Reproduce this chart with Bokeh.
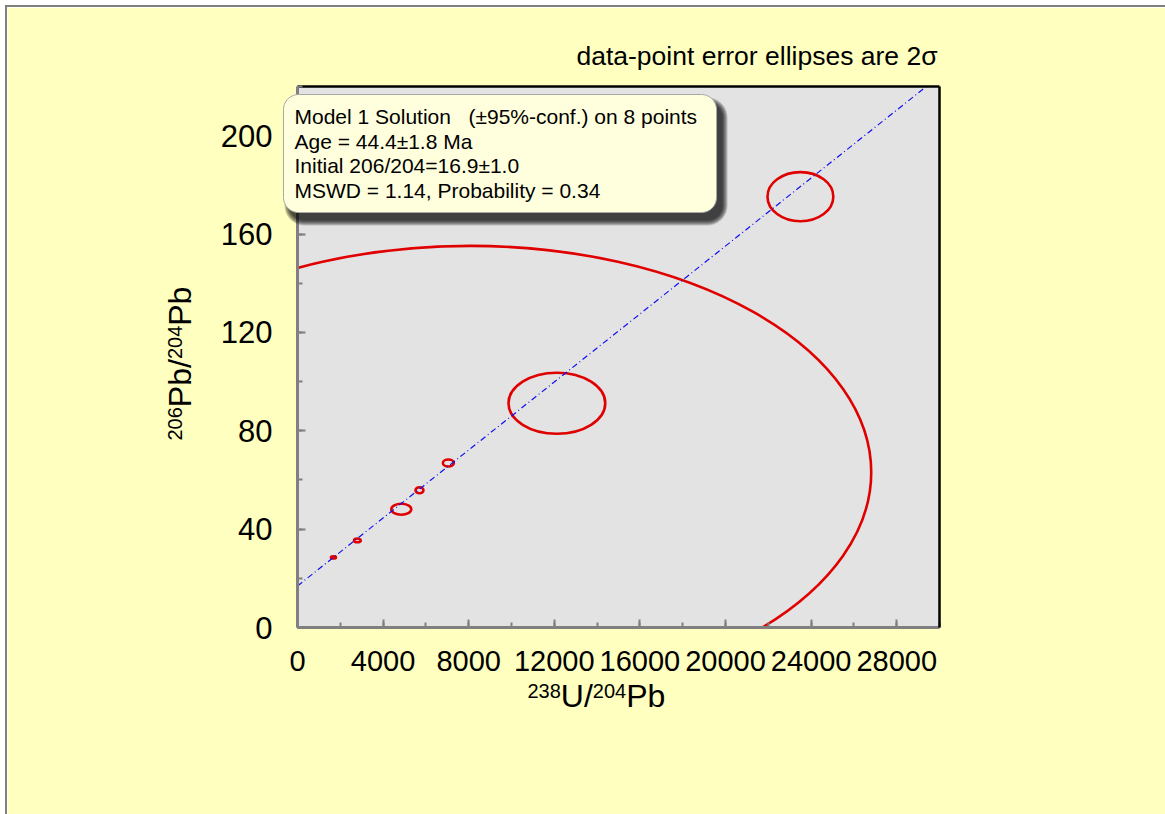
import math

import numpy as np
from bokeh.embed import file_html
from bokeh.models import ColumnDataSource, FixedTicker, Label, LinearAxis, Range1d, SingleIntervalTicker
from bokeh.plotting import figure
from bokeh.resources import INLINE

# Analysed fractions: 238U/204Pb, 206Pb/204Pb and their 2-sigma half-axes
u238_pb204 = [1680, 2800, 4850, 5700, 7050, 12120, 23500, 8070]
pb206_pb204 = [28.5, 35.4, 48.1, 55.8, 66.9, 91.2, 175.2, 63.1]
u238_err2s = [117, 156, 466, 186, 256, 2261, 1538, 18740]
pb206_err2s = [0.47, 0.75, 2.24, 1.22, 1.43, 12.4, 9.98, 92.1]

# Model 1 regression result
age_ma = 44.4
initial_206_204 = 16.9
lambda_238 = 1.55125e-10  # decay constant, 1/yr

x_limits = (0, 30000)
y_limits = (0, 220)

NB = "\u00a0"
result_lines = [
    f"Model 1 Solution{NB}{NB}{NB}(\u00b195%-conf.) on 8 points",
    "Age = 44.4\u00b11.8 Ma",
    "Initial 206/204=16.9\u00b11.0",
    "MSWD = 1.14, Probability = 0.34",
]
note_text = "data-point error ellipses are 2\u03c3"

FONT = "Liberation Sans"
PAGE_BG = "#FFFFC0"
PLOT_BG = "#E3E3E3"
RED = "#E00000"

# page geometry (pixels)
PAGE_W, PAGE_H = 1165, 814
X0, Y0 = 7, 7                      # canvas origin on the page
FL, FT, FW, FH = 297, 86, 642, 541  # plotting frame
CW, CH = PAGE_W - X0, PAGE_H - Y0

# ---------------------------------------------------------------- main plot
p = figure(
    frame_width=FW,
    frame_height=FH,
    min_border_left=FL - X0,
    min_border_top=FT - Y0,
    min_border_right=CW - (FL - X0) - FW,
    min_border_bottom=CH - (FT - Y0) - FH,
    x_range=Range1d(*x_limits),
    y_range=Range1d(*y_limits),
    output_backend="svg",
    toolbar_location=None,
    background_fill_color=PLOT_BG,
    border_fill_color=PAGE_BG,
    outline_line_color=None,
)
p.styles = {
    "margin-left": "5px",
    "margin-top": "5px",
    "border-left": "2px solid #808080",
    "border-top": "2px solid #808080",
}
p.grid.visible = False

# bottom / left axes: grey, ticks pointing inwards
p.xaxis.ticker = SingleIntervalTicker(interval=4000, num_minor_ticks=2)
p.yaxis.ticker = SingleIntervalTicker(interval=40, num_minor_ticks=2)
for ax in (p.xaxis[0], p.yaxis[0]):
    ax.axis_line_color = "#808080"
    ax.axis_line_width = 3
    ax.major_tick_in = 8
    ax.major_tick_out = 0
    ax.minor_tick_in = 5
    ax.minor_tick_out = 0
    ax.major_tick_line_color = "#808080"
    ax.minor_tick_line_color = "#808080"
    ax.major_tick_line_width = 2
    ax.minor_tick_line_width = 2
    ax.major_label_text_font = FONT
    ax.major_label_text_color = "black"
p.xaxis.major_label_text_font_size = "29px"
p.yaxis.major_label_text_font_size = "31px"
p.xaxis.major_label_standoff = 23
p.yaxis.major_label_standoff = 25

# top / right frame edges in black
for side in ("right", "above"):
    edge = LinearAxis(
        ticker=FixedTicker(ticks=[]),
        axis_line_color="black",
        axis_line_width=2.5,
        major_tick_line_color=None,
        minor_tick_line_color=None,
    )
    p.add_layout(edge, side)

# error ellipses
src = ColumnDataSource(
    dict(
        x=u238_pb204,
        y=pb206_pb204,
        w=[2 * e for e in u238_err2s],
        h=[2 * e for e in pb206_err2s],
    )
)
p.ellipse(x="x", y="y", width="w", height="h", source=src,
          fill_color=None, line_color=RED, line_width=2.6)

# isochron from the regression age and initial ratio
slope = math.exp(lambda_238 * age_ma * 1e6) - 1.0
iso_x = list(x_limits)
iso_y = [initial_206_204 + slope * v for v in iso_x]
p.line(iso_x, iso_y, line_color="#1010F0", line_width=1.2, line_dash="6 3 1 3")

# ------------------------------------------- overlay in page-pixel coordinates
ov = figure(
    width=CW,
    height=CH,
    x_range=Range1d(X0, PAGE_W),
    y_range=Range1d(PAGE_H, Y0),
    min_border=0,
    output_backend="svg",
    toolbar_location=None,
    x_axis_type=None,
    y_axis_type=None,
    background_fill_alpha=0,
    border_fill_alpha=0,
    outline_line_color=None,
)
ov.grid.visible = False
ov.styles = {"position": "absolute", "left": f"{X0}px", "top": f"{Y0}px"}

BASE_K = 0.41  # baseline correction, as a fraction of the font size


def text_at(x, baseline, text, size, align="left", angle=0.0):
    """Place text so that its alphabetic baseline sits at the given page pixel."""
    shift = BASE_K * size
    if angle:
        x, y = x - shift, baseline
    else:
        x, y = x, baseline - shift
    ov.add_layout(Label(
        x=x, y=y, text=text, text_font=FONT, text_font_size=f"{size}px",
        text_color="black", text_align=align, text_baseline="alphabetic",
        angle=angle,
    ))


def rounded_rect(left, top, right, bottom, rad, n=10):
    xs, ys = [], []
    corners = [
        (right - rad, top + rad, -90, 0),
        (right - rad, bottom - rad, 0, 90),
        (left + rad, bottom - rad, 90, 180),
        (left + rad, top + rad, 180, 270),
    ]
    for cx, cy, a0, a1 in corners:
        for a in np.radians(np.linspace(a0, a1, n)):
            xs.append(cx + rad * math.cos(a))
            ys.append(cy + rad * math.sin(a))
    return xs, ys


# result box with a soft drop shadow
BL, BT, BR, BB = 283, 94, 716, 212
for g in (5, 4, 3, 2, 1, 0):
    sx, sy = rounded_rect(BL + 6 - g, BT + 8 - g, BR + 6 + g, BB + 8 + g, 15 + g)
    ov.patch(sx, sy, fill_color="black", fill_alpha=0.19, line_color=None)
bx, by = rounded_rect(BL, BT, BR, BB, 15)
ov.patch(bx, by, fill_color="#FFFFDD", line_color="#A8A8A8", line_width=1)

for i, line in enumerate(result_lines):
    text_at(294, 125 + 24.4 * i, line, 21)

text_at(937, 66, note_text, 26.5, align="right")

# axis titles with superscripted mass numbers
MAIN, SUP = 32, 20
DIGIT = 0.556
WIDTHS = {"U/": 1.0, "Pb/": 1.501, "Pb": 1.223}


def piece_width(txt, sup):
    return 3 * DIGIT * SUP if sup else WIDTHS[txt] * MAIN


x_title = [("238", True), ("U/", False), ("204", True), ("Pb", False)]
y_title = [("206", True), ("Pb/", False), ("204", True), ("Pb", False)]

cx, base = 527.0, 709.0
for txt, sup in x_title:
    text_at(cx, base - (10 if sup else 0), txt, SUP if sup else MAIN)
    cx += piece_width(txt, sup)

cy, base = 440.0, 193.0
for txt, sup in y_title:
    text_at(base - (10 if sup else 0), cy, txt, SUP if sup else MAIN, angle=math.pi / 2)
    cy -= piece_width(txt, sup)

open("out.html", "w").write(file_html([p, ov], INLINE))
